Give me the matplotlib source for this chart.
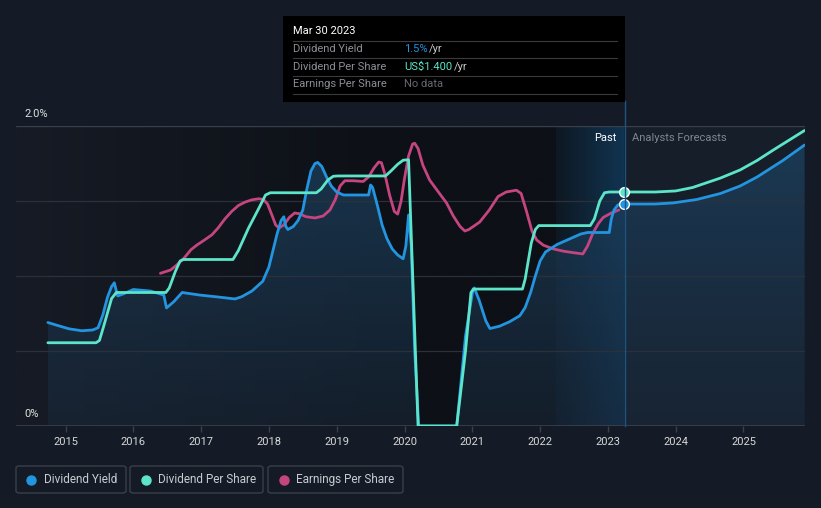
import matplotlib
matplotlib.use('Agg')
import matplotlib.pyplot as plt
import numpy as np
from matplotlib.patches import FancyBboxPatch, Rectangle, Polygon
from matplotlib.lines import Line2D
from matplotlib.colors import to_rgba

# ---------------- data (years, percent) ----------------
yield_x = [2014.74, 2014.90, 2015.05, 2015.24, 2015.40, 2015.48, 2015.55, 2015.62, 2015.68, 2015.72,
           2015.75, 2015.77, 2015.85, 2016.00, 2016.25, 2016.45, 2016.49, 2016.60, 2016.72, 2016.98,
           2017.25, 2017.50, 2017.60, 2017.75, 2017.91, 2018.00, 2018.06, 2018.12, 2018.18, 2018.22,
           2018.25, 2018.28, 2018.36, 2018.43, 2018.50, 2018.56, 2018.62, 2018.68, 2018.72, 2018.78,
           2018.85, 2018.92, 2019.00, 2019.10, 2019.47, 2019.50, 2019.53, 2019.60, 2019.67, 2019.74,
           2019.82, 2019.90, 2019.98, 2020.02, 2020.06, 2020.10, 2020.15, 2020.21, 2020.77, 2020.90,
           2021.01, 2021.03, 2021.10, 2021.20, 2021.26, 2021.40, 2021.55, 2021.70, 2021.78, 2021.86,
           2021.93, 2022.00, 2022.08, 2022.25, 2022.45, 2022.60, 2022.70, 2023.02, 2023.05, 2023.09,
           2023.15, 2023.24]
yield_v = [0.69, 0.668, 0.648, 0.635, 0.64, 0.655, 0.74, 0.86, 0.93, 0.955,
           0.90, 0.867, 0.88, 0.91, 0.90, 0.873, 0.787, 0.83, 0.89, 0.873,
           0.86, 0.847, 0.862, 0.90, 0.965, 1.06, 1.17, 1.28, 1.37, 1.395,
           1.33, 1.31, 1.33, 1.37, 1.44, 1.58, 1.70, 1.75, 1.757, 1.73,
           1.66, 1.60, 1.56, 1.54, 1.54, 1.607, 1.59, 1.47, 1.34, 1.25,
           1.18, 1.14, 1.115, 1.20, 1.407, 1.20, 0.5, 0.0, 0.0, 0.6,
           0.913, 0.92, 0.84, 0.70, 0.65, 0.665, 0.695, 0.735, 0.79, 0.89,
           1.00, 1.10, 1.16, 1.21, 1.25, 1.28, 1.29, 1.29, 1.38, 1.44,
           1.475, 1.48]
yield_fc_x = [2023.24, 2023.70, 2023.96, 2024.31, 2024.66, 2024.95, 2025.20, 2025.58, 2025.90]
yield_fc_v = [1.48, 1.48, 1.487, 1.51, 1.55, 1.60, 1.66, 1.77, 1.873]

dps_x = [2014.74, 2015.45, 2015.50, 2015.56, 2015.68, 2015.75, 2016.48, 2016.53, 2016.62, 2016.69,
         2016.74, 2017.47, 2017.55, 2017.70, 2017.85, 2017.95, 2018.02, 2018.70, 2018.77, 2018.87,
         2018.95, 2019.02, 2019.72, 2019.80, 2019.90, 2019.98, 2020.06, 2020.20, 2020.77, 2020.90,
         2020.98, 2021.02, 2021.74, 2021.78, 2021.87, 2021.93, 2021.98, 2022.74, 2022.80, 2022.88,
         2022.95, 2023.02, 2023.24]
dps_v = [0.555, 0.555, 0.57, 0.66, 0.85, 0.89, 0.89, 0.92, 1.03, 1.10,
         1.11, 1.11, 1.17, 1.32, 1.45, 1.54, 1.555, 1.555, 1.58, 1.64,
         1.665, 1.667, 1.667, 1.70, 1.745, 1.772, 1.775, 0.0, 0.0, 0.5,
         0.89, 0.913, 0.913, 0.98, 1.22, 1.31, 1.336, 1.336, 1.38, 1.50,
         1.555, 1.56, 1.56]
dps_fc_x = [2023.24, 2023.70, 2024.00, 2024.25, 2024.66, 2024.95, 2025.20, 2025.44, 2025.90]
dps_fc_v = [1.56, 1.56, 1.567, 1.59, 1.653, 1.707, 1.77, 1.84, 1.97]

eps_x = [2016.40, 2016.55, 2016.64, 2016.75, 2016.85, 2016.94, 2017.05, 2017.16, 2017.25, 2017.35,
         2017.45, 2017.55, 2017.65, 2017.75, 2017.85, 2017.92, 2017.98, 2018.05, 2018.10, 2018.15,
         2018.22, 2018.30, 2018.38, 2018.45, 2018.55, 2018.68, 2018.80, 2018.90, 2018.98, 2019.05,
         2019.12, 2019.25, 2019.39, 2019.47, 2019.55, 2019.62, 2019.66, 2019.71, 2019.78, 2019.85,
         2019.90, 2019.95, 2020.00, 2020.06, 2020.12, 2020.15, 2020.20, 2020.27, 2020.37, 2020.50,
         2020.62, 2020.72, 2020.82, 2020.89, 2020.95, 2021.11, 2021.25, 2021.38, 2021.50, 2021.65,
         2021.72, 2021.80, 2021.88, 2021.95, 2022.05, 2022.20, 2022.35, 2022.50, 2022.63, 2022.70,
         2022.78, 2022.86, 2022.93, 2023.05, 2023.16]
eps_v = [1.018, 1.04, 1.073, 1.12, 1.175, 1.207, 1.24, 1.275, 1.32, 1.38,
         1.43, 1.47, 1.493, 1.508, 1.515, 1.51, 1.48, 1.40, 1.34, 1.32,
         1.34, 1.39, 1.42, 1.415, 1.395, 1.387, 1.40, 1.44, 1.51, 1.60,
         1.635, 1.635, 1.63, 1.66, 1.72, 1.76, 1.755, 1.68, 1.54, 1.43,
         1.413, 1.50, 1.65, 1.80, 1.88, 1.885, 1.85, 1.74, 1.64, 1.56,
         1.487, 1.40, 1.33, 1.30, 1.31, 1.36, 1.44, 1.53, 1.56, 1.572,
         1.55, 1.43, 1.30, 1.24, 1.205, 1.18, 1.165, 1.155, 1.147, 1.20,
         1.287, 1.35, 1.39, 1.42, 1.44]

years = [2015, 2016, 2017, 2018, 2019, 2020, 2021, 2022, 2023, 2024, 2025]
y_labels = ["0%", "2.0%"]
legend_names = ["Dividend Yield", "Dividend Per Share", "Earnings Per Share"]

C_BLUE = '#2394df'
C_TEAL = '#5ce5c9'
C_MAG = '#c4457f'
BG = '#151b26'

# ---------------- figure ----------------
W, H = 821, 508
fig = plt.figure(figsize=(W / 100, H / 100), dpi=100)
fig.patch.set_facecolor(BG)
plt.rcParams['font.family'] = ['Roboto', 'DejaVu Sans']

def fxp(px):
    return px / W

def fyp(py):
    return 1 - py / H

x0 = 2015 + (16 - 65.5) / 67.8
x1 = 2015 + (805 - 65.5) / 67.8
ax = fig.add_axes([16 / W, (H - 426) / H, (805 - 16) / W, 300 / H])
ax.set_xlim(x0, x1)
ax.set_ylim(0, 2.0)
ax.set_facecolor('none')
for s in ax.spines.values():
    s.set_visible(False)

now_x = 2023.238
band_x = 2022.234

# past background: horizontal gradient
n = 400
xs_bg = np.linspace(x0, band_x, n)
c1 = np.array(to_rgba('#161b25'))
c2 = np.array(to_rgba('#0d1016'))
t = np.clip((xs_bg - x0) / (2019.8 - x0), 0, 1).reshape(1, -1, 1)
img = c1 * (1 - t) + c2 * t
ax.imshow(img, extent=[x0, band_x, 0, 2.0], aspect='auto', origin='lower', zorder=0, interpolation='bilinear')

# band gradient
tb = np.linspace(0, 1, 100).reshape(1, -1, 1)
b1 = np.array(to_rgba('#0e1822'))
b2 = np.array(to_rgba('#113452'))
ax.imshow(b1 * (1 - tb) + b2 * tb, extent=[band_x, now_x, 0, 2.0], aspect='auto', origin='lower',
          zorder=0, interpolation='bilinear')

# forecast background
ax.add_patch(Rectangle((now_x, 0), x1 - now_x, 2.0, facecolor='#161e29', edgecolor='none', zorder=0))

# fill under dividend yield (vertical gradient)
fx_all = list(yield_x) + list(yield_fc_x[1:])
fv_all = list(yield_v) + list(yield_fc_v[1:])
verts = [(fx_all[0], 0)] + list(zip(fx_all, fv_all)) + [(fx_all[-1], 0)]
poly = Polygon(verts, closed=True, facecolor='none', edgecolor='none')
ax.add_patch(poly)
tv = np.linspace(0, 1, 200).reshape(-1, 1, 1)
f1 = np.array(to_rgba('#1a2a3c')); f1[3] = 0.55
f2 = np.array(to_rgba('#1d4566')); f2[3] = 0.75
fim = ax.imshow(f1 * (1 - tv) + f2 * tv, extent=[x0, x1, 0, 2.0], aspect='auto', origin='lower',
                zorder=1, interpolation='bilinear')
fim.set_clip_path(poly)

# gridlines
for gv in [0.5, 1.0, 1.5]:
    ax.axhline(gv, color='#2b313b', lw=0.9, zorder=1.5)
ax.axhline(2.0, color='#3a404a', lw=1.0, zorder=1.5)
ax.axhline(0.0, color='#3b414b', lw=1.2, zorder=1.5)

# lines
lw = 2.0
kw = dict(lw=lw, solid_capstyle='round', solid_joinstyle='round')
ax.plot(eps_x, eps_v, color=C_MAG, zorder=3, **kw)
ax.plot(yield_x, yield_v, color=C_BLUE, zorder=3.2, **kw)
ax.plot(yield_fc_x, yield_fc_v, color=C_BLUE, zorder=3.2, **kw)
ax.plot(dps_x, dps_v, color=C_TEAL, zorder=3.4, **kw)
ax.plot(dps_fc_x, dps_fc_v, color=C_TEAL, zorder=3.4, **kw)

ax.plot([dps_x[-1]], [dps_v[-1]], 'o', ms=7, mfc=C_TEAL, mec='white', mew=1.0, zorder=5)
ax.plot([yield_x[-1]], [yield_v[-1]], 'o', ms=7, mfc=C_BLUE, mec='white', mew=1.0, zorder=5)

# ticks
ax.set_xticks(years)
ax.set_xticklabels([str(y) for y in years])
ax.set_yticks([])
ax.tick_params(axis='x', length=4, width=1, color='#3b414b', labelcolor='#d8d8d8',
               labelsize=8, pad=4)
for lab in ax.get_xticklabels():
    lab.set_fontstretch('condensed')

# y labels
ax.text(fxp(24), fyp(414), y_labels[0], transform=fig.transFigure, color='#e0e0e0', fontsize=8, va='center')
ax.text(fxp(24), fyp(114), y_labels[1], transform=fig.transFigure, color='#e0e0e0', fontsize=8, va='center')

# Past / forecast labels
fig.text(fxp(616), fyp(138), "Past", color='white', fontsize=8, ha='right', va='center')
fig.text(fxp(632), fyp(138), "Analysts Forecasts", color='#7f8691', fontsize=8, ha='left', va='center')

# vertical "now" line
fig.add_artist(Line2D([fxp(624.5), fxp(624.5)], [fyp(101), fyp(426)], color='#1d5580', lw=1.0, zorder=2))

# tooltip
fig.add_artist(Rectangle((fxp(283), fyp(102)), (625 - 283) / W, (102 - 16) / H,
                         transform=fig.transFigure, facecolor='black', edgecolor='none', zorder=6))
fig.text(fxp(293), fyp(31), "Mar 30 2023", color='white', fontsize=8, va='center', zorder=7)
for ly in [41.3, 58.3, 76.3, 93.7]:
    fig.add_artist(Line2D([fxp(293), fxp(617)], [fyp(ly), fyp(ly)], color='#3a3a3a', lw=0.8, zorder=7))
rows = [("Dividend Yield", 49), ("Dividend Per Share", 66.7), ("Earnings Per Share", 84.3)]
for name, ry in rows:
    fig.text(fxp(293), fyp(ry), name, color='#8b8f96', fontsize=8, va='center', zorder=7)
fig.text(fxp(404), fyp(49), "1.5%", color=C_BLUE, fontsize=8, va='center', zorder=7)
fig.text(fxp(429), fyp(49), "/yr", color='#c8c8c8', fontsize=8, va='center', zorder=7)
fig.text(fxp(404), fyp(66.7), "US$1.400", color=C_TEAL, fontsize=8, va='center', zorder=7)
fig.text(fxp(454), fyp(66.7), "/yr", color='#c8c8c8', fontsize=8, va='center', zorder=7)
fig.text(fxp(404), fyp(84.3), "No data", color='#666a70', fontsize=8, va='center', zorder=7)

# legend
boxes = [(16, 126), (130, 263), (268, 403)]
dots = [31, 145.5, 284]
tx = [44, 158, 296]
cols = [C_BLUE, C_TEAL, C_MAG]
for (bx0, bx1), dx, tx0, col, name in zip(boxes, dots, tx, cols, legend_names):
    fig.add_artist(FancyBboxPatch((fxp(bx0), fyp(493)), (bx1 - bx0) / W, (493 - 466) / H,
                                  boxstyle="round,pad=0,rounding_size=0.004",
                                  transform=fig.transFigure, facecolor='none',
                                  edgecolor='#3a3f48', lw=1.0))
    fig.add_artist(Line2D([fxp(dx)], [fyp(479.5)], marker='o', ms=6.5, color=col, mec=col))
    fig.text(fxp(tx0), fyp(479.5), name, color='#c8ccd2', fontsize=8.5, va='center',
             fontstretch='condensed')

fig.savefig('out.png', dpi=100, facecolor=BG)
